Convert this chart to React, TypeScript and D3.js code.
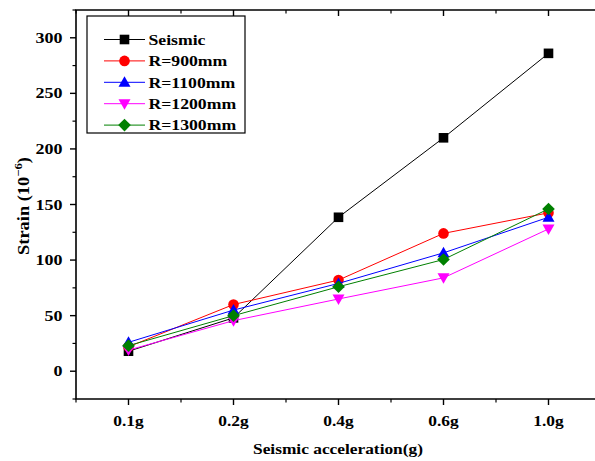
import React from "react";
import * as d3 from "d3";

const categories = ["0.1g", "0.2g", "0.4g", "0.6g", "1.0g"];
const seriesNames = ["Seismic", "R=900mm", "R=1100mm", "R=1200mm", "R=1300mm"];
const seismic = [18, 48, 138.5, 210, 286];
const r900 = [22, 60, 82, 124, 142.5];
const r1100 = [26, 55, 79, 106.5, 138.5];
const r1200 = [19, 45.5, 65, 84, 128];
const r1300 = [23, 50, 76, 100.5, 146];
const colors = ["#000000", "#ff0000", "#0000ff", "#ff00ff", "#008000"];
const markers = ["square", "circle", "triangle", "triangleDown", "diamond"];
const yTicks = [0, 50, 100, 150, 200, 250, 300];
const yMinor = [-25, 25, 75, 125, 175, 225, 275, 325];

const allSeries = [seismic, r900, r1100, r1200, r1300];

const W = 595, H = 461;
const left = 76, right = 601, top = 10, bottom = 399;
const font = "'Liberation Serif', 'Times New Roman', serif";

function SText({ x, y, anchor = "start", size = 15, sx = 1.2, children }: any) {
  return (
    <text
      transform={`translate(${x},${y}) scale(${sx},1)`}
      textAnchor={anchor}
      fontSize={size}
      style={{ fontFamily: font, fontWeight: "bold" }}
    >
      {children}
    </text>
  );
}

function Marker({ type, x, y, color }: { type: string; x: number; y: number; color: string }) {
  const s = 4.8;
  if (type === "square") return <rect x={x - s} y={y - s} width={2 * s} height={2 * s} fill={color} />;
  if (type === "circle") return <circle cx={x} cy={y} r={5.3} fill={color} />;
  if (type === "triangle") {
    const t = 6;
    return <path d={`M${x},${y - t}L${x + t},${y + t * 0.75}L${x - t},${y + t * 0.75}Z`} fill={color} />;
  }
  if (type === "triangleDown") {
    const t = 6;
    return <path d={`M${x},${y + t}L${x + t},${y - t * 0.75}L${x - t},${y - t * 0.75}Z`} fill={color} />;
  }
  const d = 6.3;
  return <path d={`M${x},${y - d}L${x + d},${y}L${x},${y + d}L${x - d},${y}Z`} fill={color} />;
}

export default function App() {
  const x = d3.scaleLinear().domain([-0.5, 4.5]).range([left, right]);
  const y = d3.scaleLinear().domain([-25, 325]).range([bottom, top]);
  const line = d3.line<number>().x((_, i) => x(i)).y((v) => y(v));
  const xMinor = d3.range(-0.5, 4.51, 1);

  return (
    <svg width={W} height={H} style={{ position: "absolute", left: 0, top: 0, background: "#fff" }}>
      <g fill="#000">
        {/* frame */}
        <path d={`M${left},${bottom}V${top}H${right}V${bottom}Z`} stroke="#000" strokeWidth={1.6} fill="none" />
        {/* y ticks */}
        {yTicks.map((t) => (
          <g key={"y" + t}>
            <line x1={left - 6} x2={left} y1={y(t)} y2={y(t)} stroke="#000" strokeWidth={1.4} />
            <line x1={right} x2={right - 6} y1={y(t)} y2={y(t)} stroke="#000" strokeWidth={1.4} />
            <SText x={left - 13.5} y={y(t) + 5} anchor="end" size={14.5} sx={1.24}>{t}</SText>
          </g>
        ))}
        {yMinor.map((t) => (
          <g key={"ym" + t}>
            <line x1={left - 3.5} x2={left} y1={y(t)} y2={y(t)} stroke="#000" strokeWidth={1.2} />
            <line x1={right} x2={right - 3.5} y1={y(t)} y2={y(t)} stroke="#000" strokeWidth={1.2} />
          </g>
        ))}
        {/* x ticks */}
        {categories.map((c, i) => (
          <g key={c}>
            <line x1={x(i)} x2={x(i)} y1={bottom} y2={bottom + 6} stroke="#000" strokeWidth={1.4} />
            <line x1={x(i)} x2={x(i)} y1={top} y2={top + 6} stroke="#000" strokeWidth={1.4} />
            <SText x={x(i)} y={426} anchor="middle" size={14.5} sx={1.2}>{c}</SText>
          </g>
        ))}
        {xMinor.map((t) => (
          <g key={"xm" + t}>
            <line x1={x(t)} x2={x(t)} y1={bottom} y2={bottom + 3.5} stroke="#000" strokeWidth={1.2} />
            <line x1={x(t)} x2={x(t)} y1={top} y2={top + 3.5} stroke="#000" strokeWidth={1.2} />
          </g>
        ))}
        {/* axis titles */}
        <SText x={338} y={454} anchor="middle" size={15.5} sx={1.12}>Seismic acceleration(g)</SText>
        <g transform="translate(28.5,206) rotate(-90)">
          <SText x={0} y={0} anchor="middle" size={16} sx={1.15}>
            Strain (10<tspan dy={-6.5} fontSize={11}>−6</tspan><tspan dy={6.5}>)</tspan>
          </SText>
        </g>
        {/* series */}
        {allSeries.map((s, k) => (
          <g key={seriesNames[k]}>
            <path d={line(s) || ""} fill="none" stroke={colors[k]} strokeWidth={1} />
            {s.map((v, i) => (
              <Marker key={i} type={markers[k]} x={x(i)} y={y(v)} color={colors[k]} />
            ))}
          </g>
        ))}
        {/* legend */}
        <rect x={87} y={16} width={158} height={117} fill="#fff" stroke="#000" strokeWidth={1.2} />
        {seriesNames.map((n, k) => {
          const ly = 39.5 + k * 21.4;
          return (
            <g key={"lg" + n}>
              <line x1={104} x2={145} y1={ly} y2={ly} stroke={colors[k]} strokeWidth={1} />
              <Marker type={markers[k]} x={124.5} y={ly} color={colors[k]} />
              <SText x={148.5} y={ly + 5.2} size={15} sx={1.18}>{n}</SText>
            </g>
          );
        })}
      </g>
    </svg>
  );
}
